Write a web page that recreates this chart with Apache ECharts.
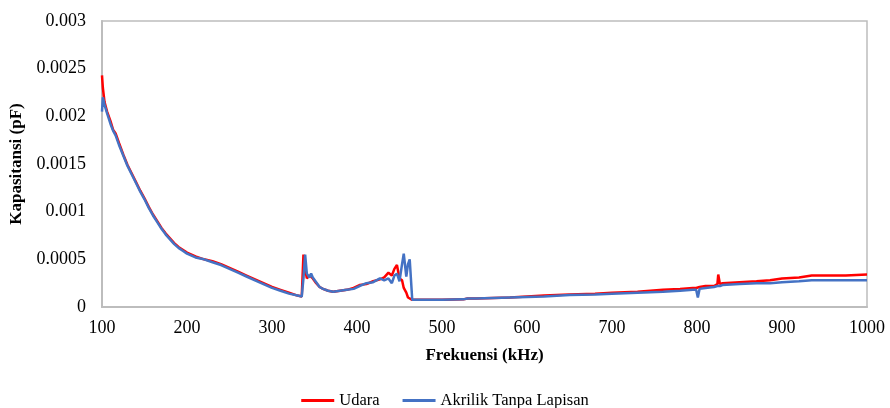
<!DOCTYPE html>
<html>
<head>
<meta charset="utf-8">
<script src="https://cdn.jsdelivr.net/npm/echarts@6/dist/echarts.min.js"></script>
<style>html,body{margin:0;padding:0;background:#fff}#c{width:890px;height:408px}</style>
</head>
<body>
<div id="c"></div>
<script>
const freq = [100,101,103,106,110,113,116,120,125,130,135,140,145,150,155,160,165,170,175,180,185,190,195,200,210,220,230,240,250,260,270,280,290,300,310,320,330,335,337,339,341,344,346,348,352,356,360,366,372,380,388,396,403,411,419,427,432,437,441,444,447,450,453,455,458,460,462,465,480,500,525,530,540,560,580,600,620,650,680,700,730,760,780,795,799,801,803,810,820,824,825,827,830,850,870,886,900,920,935,950,975,1000];

const udara = [0.00243,0.0023,0.00215,0.00205,0.00195,0.00186,0.00182,0.00172,0.0016,0.00149,0.0014,0.00131,0.00122,0.00114,0.00105,0.00097,0.0009,0.00083,0.00077,0.00072,0.00067,0.00063,0.0006,0.00057,0.00053,0.0005,0.00048,0.00045,0.00041,0.00037,0.00033,0.00029,0.00025,0.00021,0.00018,0.00015,0.00012,0.00011,0.00055,0.0004,0.0003,0.00033,0.00032,0.0003,0.00025,0.00021,0.00019,0.00017,0.00016,0.00017,0.00018,0.0002,0.00023,0.00024,0.00027,0.00029,0.00031,0.00036,0.00033,0.0004,0.00044,0.0003,0.00028,0.0002,0.00015,0.0001,0.00008,0.000075,0.000075,0.000075,0.00008,0.00009,0.00009,0.000095,0.0001,0.00011,0.00012,0.00013,0.00014,0.00015,0.00016,0.00018,0.00019,0.0002,0.0002,0.0002,0.00021,0.00022,0.00022,0.00024,0.00034,0.00024,0.00025,0.00026,0.00027,0.00028,0.0003,0.00031,0.00033,0.00033,0.00033,0.00034];

const akrilik = [0.00205,0.0022,0.00212,0.00203,0.00192,0.00185,0.0018,0.0017,0.00159,0.00148,0.00139,0.0013,0.00121,0.00113,0.00104,0.00096,0.00089,0.00082,0.00076,0.00071,0.00066,0.00062,0.00059,0.00056,0.00052,0.0005,0.00047,0.00044,0.0004,0.00036,0.00032,0.00028,0.00024,0.0002,0.00017,0.00014,0.00012,0.00011,0.0003,0.00055,0.00035,0.00031,0.00035,0.00031,0.00026,0.00021,0.00019,0.00017,0.00016,0.00017,0.00018,0.00019,0.00022,0.00025,0.00026,0.0003,0.00028,0.0003,0.00025,0.00033,0.00035,0.00027,0.00045,0.00056,0.00032,0.00045,0.0005,0.000075,0.000075,0.000075,0.00008,0.00009,0.00009,0.000095,0.0001,0.000105,0.00011,0.000125,0.00013,0.00014,0.00015,0.00016,0.00017,0.00018,0.00018,0.0001,0.00019,0.0002,0.00021,0.00022,0.00022,0.00022,0.00023,0.00024,0.00025,0.00025,0.00026,0.00027,0.00028,0.00028,0.00028,0.00028];

const seriesNames = ['Udara', 'Akrilik Tanpa Lapisan'];
const xTitle = 'Frekuensi (kHz)';
const yTitle = 'Kapasitansi (pF)';

const toPairs = vals => freq.map((f, i) => [f, vals[i]]);
const font = 'Liberation Serif, Times New Roman, serif';

const chart = echarts.init(document.getElementById('c'), null, {renderer: 'canvas'});
chart.setOption({
  animation: false,
  textStyle: {fontFamily: font},
  grid: {left: 102, right: 23, top: 21, bottom: 101, show: true, borderColor: '#bdbdbd', borderWidth: 1.5,
         containLabel: false, outerBoundsMode: 'none'},
  legend: {
    top: 387, left: 'center', itemWidth: 33, itemHeight: 3, itemGap: 23,
    icon: 'rect',
    textStyle: {fontFamily: font, fontSize: 16.5, color: '#000'},
    data: seriesNames
  },
  xAxis: {
    type: 'value', min: 100, max: 1000, interval: 100,
    name: xTitle, nameLocation: 'middle', nameGap: 40,
    nameTextStyle: {fontFamily: font, fontSize: 17, fontWeight: 'bold', color: '#000'},
    axisLine: {show: true, lineStyle: {color: '#bdbdbd', width: 2}},
    axisTick: {show: false},
    splitLine: {show: false},
    axisLabel: {fontFamily: font, fontSize: 18, color: '#000', margin: 12, formatter: v => String(v)}
  },
  yAxis: {
    type: 'value', min: 0, max: 0.003, interval: 0.0005,
    name: yTitle, nameLocation: 'middle', nameGap: 70,
    nameTextStyle: {fontFamily: font, fontSize: 17, fontWeight: 'bold', color: '#000'},
    axisLine: {show: true, lineStyle: {color: '#bdbdbd', width: 2}},
    axisTick: {show: false},
    splitLine: {show: false},
    axisLabel: {fontFamily: font, fontSize: 18, color: '#000', margin: 16}
  },
  series: [
    {name: seriesNames[0], type: 'line', data: toPairs(udara), showSymbol: false, symbol: 'none',
     lineStyle: {color: '#ff0000', width: 2.5}, itemStyle: {color: '#ff0000'}},
    {name: seriesNames[1], type: 'line', data: toPairs(akrilik), showSymbol: false, symbol: 'none',
     lineStyle: {color: '#4472c4', width: 2.5}, itemStyle: {color: '#4472c4'}}
  ]
});
</script>
</body>
</html>
